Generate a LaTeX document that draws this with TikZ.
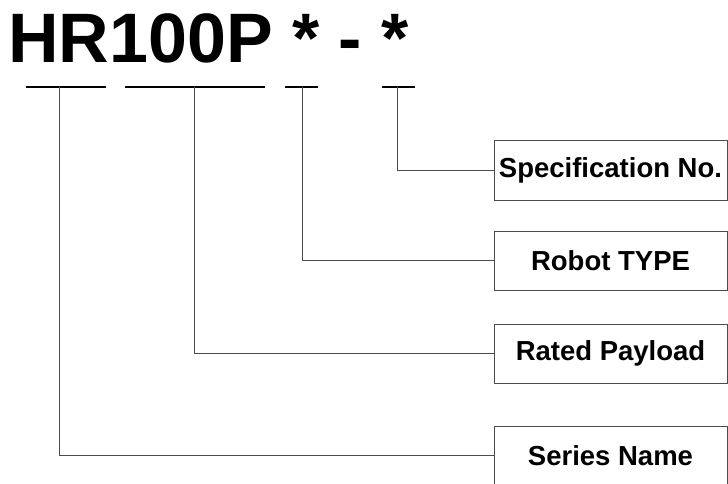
\documentclass[tikz,border=0pt]{standalone}
\usepackage{fontspec}
\setmainfont{Liberation Sans}
\usepackage{tikz}

\tikzset{
  labelbox/.style={draw=black!70, line width=1pt, minimum width=233pt, minimum height=59pt,
    inner sep=0pt, font=\bfseries\fontsize{27.5}{30}\selectfont},
  lead/.style={line width=1pt, black!70},
  underline/.style={line width=1.2pt, black}
}

\begin{document}
\begin{tikzpicture}[x=1pt, y=-1pt]
\useasboundingbox (0,0) rectangle (728,484);

\node[anchor=base west, inner sep=0pt, font=\bfseries\fontsize{70}{72}\selectfont] (code) at (8,63) {HR100P * - *};

\draw[underline] (26,87) -- (106,87);
\draw[underline] (125,87) -- (265,87);
\draw[underline] (285,87) -- (318,87);
\draw[underline] (382,87) -- (415,87);

\coordinate (series) at (59,87);
\coordinate (payload) at (194,87);
\coordinate (type) at (302,87);
\coordinate (spec) at (397,87);

\begin{scope}
\clip (0,0) rectangle (728,484);
\node[labelbox] (specbox) at (610.5,170.5) {Specification No.};
\node[labelbox] (typebox) at (610.5,260.5) {Robot TYPE};
\node[labelbox] (payloadbox) at (610.5,353.5) {Rated Payload};
\node[labelbox] (seriesbox) at (610.5,455.5) {Series Name};
\end{scope}

\draw[lead] (spec) |- (specbox.west);
\draw[lead] (type) |- (typebox.west);
\draw[lead] (payload) |- (payloadbox.west);
\draw[lead] (series) |- (seriesbox.west);
\end{tikzpicture}
\end{document}
